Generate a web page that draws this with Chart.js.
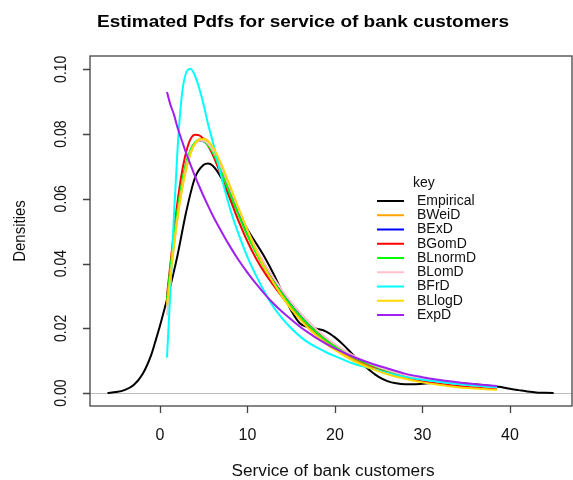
<!DOCTYPE html>
<html>
<head>
<meta charset="utf-8">
<script src="https://cdn.jsdelivr.net/npm/chart.js@4/dist/chart.umd.min.js"></script>
<style>
  html, body { margin: 0; padding: 0; background: #ffffff; }
  canvas { display: block; }
</style>
</head>
<body>
<canvas id="pdfChart" width="573" height="480"></canvas>
<script>
// Axis ticks
const xTicks = [0, 10, 20, 30, 40];
const yTicks = [0, 0.02, 0.04, 0.06, 0.08, 0.10];
const yTickLabels = ['0.00', '0.02', '0.04', '0.06', '0.08', '0.10'];

// Series names (legend order)
const seriesNames = ['Empirical', 'BWeiD', 'BExD', 'BGomD', 'BLnormD', 'BLomD', 'BFrD', 'BLlogD', 'ExpD'];

// Kernel density estimate of the service times
const empX = [-6, -5, -4, -3, -2, -1, -0.5, 0, 0.5, 1, 1.5, 2, 3, 4, 5, 5.5, 6, 7, 8, 9, 10, 11, 12, 13, 14, 15, 16, 17, 18, 19, 20, 21, 22, 23, 24, 25, 26, 27, 28, 29, 30, 31, 32, 34, 36, 38, 39, 40, 41, 42, 43, 44, 45];
const empY = [0.0000, 0.0003, 0.0010, 0.0025, 0.0058, 0.0118, 0.0162, 0.0208, 0.0258, 0.0310, 0.0365, 0.0425, 0.0560, 0.0665, 0.0705, 0.0709, 0.0703, 0.0665, 0.0605, 0.0555, 0.0505, 0.0462, 0.0418, 0.0367, 0.0310, 0.0255, 0.0215, 0.0203, 0.0198, 0.0190, 0.0172, 0.0148, 0.0120, 0.0093, 0.0070, 0.0050, 0.0037, 0.0030, 0.0027, 0.0027, 0.0029, 0.0031, 0.0032, 0.0031, 0.0027, 0.0022, 0.0019, 0.0013, 0.0009, 0.0005, 0.0002, 0.0001, 0.0000];

// Fitted densities, evaluated over the observed range
const modelX = [0.8, 1.2, 1.6, 2.0, 2.5, 3.0, 3.5, 4.0, 4.5, 5, 5.5, 6, 7, 8, 9, 10, 11, 12, 13, 14, 15, 16, 17, 18, 19, 20, 22, 24, 26, 28, 30, 32, 34, 36, 38.5];
const bWeiD   = [0.028, 0.037, 0.046, 0.0545, 0.063, 0.0695, 0.0742, 0.0771, 0.0784, 0.0786, 0.0778, 0.0760, 0.0703, 0.0633, 0.0562, 0.0495, 0.0435, 0.0382, 0.0336, 0.0296, 0.0260, 0.0229, 0.0201, 0.0177, 0.0156, 0.0137, 0.0106, 0.0081, 0.0062, 0.0048, 0.0037, 0.0028, 0.0021, 0.0016, 0.0012];
const bExD    = [0.029, 0.0385, 0.0475, 0.056, 0.0645, 0.0708, 0.0749, 0.0772, 0.0780, 0.0777, 0.0766, 0.0748, 0.0690, 0.0622, 0.0555, 0.0492, 0.0437, 0.0389, 0.0346, 0.0307, 0.0272, 0.0240, 0.0211, 0.0186, 0.0164, 0.0145, 0.0113, 0.0088, 0.0069, 0.0054, 0.0043, 0.0034, 0.0027, 0.0022, 0.0017];
const bGomD   = [0.030, 0.040, 0.050, 0.059, 0.068, 0.0745, 0.0785, 0.0798, 0.0796, 0.0784, 0.0764, 0.0738, 0.0672, 0.0600, 0.0530, 0.0468, 0.0415, 0.0370, 0.0332, 0.0297, 0.0265, 0.0236, 0.0209, 0.0185, 0.0164, 0.0145, 0.0112, 0.0086, 0.0066, 0.0050, 0.0038, 0.0029, 0.0023, 0.0018, 0.0014];
const bLnormD = [0.029, 0.039, 0.048, 0.0565, 0.065, 0.0712, 0.0752, 0.0774, 0.0782, 0.0778, 0.0765, 0.0745, 0.0685, 0.0615, 0.0548, 0.0486, 0.0432, 0.0385, 0.0343, 0.0305, 0.0270, 0.0238, 0.0210, 0.0185, 0.0163, 0.0144, 0.0112, 0.0088, 0.0069, 0.0055, 0.0044, 0.0035, 0.0029, 0.0023, 0.0018];
const bLomD   = [0.024, 0.035, 0.045, 0.054, 0.063, 0.0700, 0.0745, 0.0770, 0.0780, 0.0779, 0.0770, 0.0752, 0.0698, 0.0632, 0.0565, 0.0503, 0.0447, 0.0398, 0.0355, 0.0316, 0.0281, 0.0249, 0.0220, 0.0194, 0.0171, 0.0151, 0.0117, 0.0091, 0.0071, 0.0056, 0.0044, 0.0035, 0.0028, 0.0023, 0.0018];
const bFrD    = [0.011, 0.032, 0.055, 0.075, 0.092, 0.099, 0.1002, 0.098, 0.094, 0.089, 0.083, 0.078, 0.067, 0.057, 0.049, 0.042, 0.0362, 0.031, 0.0265, 0.023, 0.020, 0.0175, 0.0155, 0.0140, 0.0126, 0.0114, 0.0092, 0.0077, 0.0062, 0.0050, 0.0041, 0.0034, 0.0028, 0.0023, 0.0018];
const bLlogD  = [0.027, 0.0365, 0.0455, 0.054, 0.0625, 0.0692, 0.0740, 0.0770, 0.0783, 0.0785, 0.0778, 0.0762, 0.0708, 0.0640, 0.0570, 0.0502, 0.0440, 0.0386, 0.0339, 0.0297, 0.0260, 0.0228, 0.0199, 0.0174, 0.0152, 0.0133, 0.0101, 0.0077, 0.0058, 0.0044, 0.0033, 0.0025, 0.0018, 0.0014, 0.0010];
const expD    = [0.093, 0.089, 0.086, 0.082, 0.078, 0.074, 0.0705, 0.067, 0.0638, 0.0607, 0.0578, 0.055, 0.050, 0.0453, 0.041, 0.0372, 0.0337, 0.0305, 0.0276, 0.025, 0.0227, 0.0205, 0.0186, 0.0168, 0.0152, 0.0138, 0.0113, 0.0093, 0.0076, 0.0060, 0.0049, 0.0040, 0.0033, 0.0027, 0.0022];
const modelValues = [bWeiD, bExD, bGomD, bLnormD, bLomD, bFrD, bLlogD, expD];

// Line colours, same order as seriesNames
const seriesColors = ['#000000', '#FFA500', '#0000FF', '#FF0000', '#00FF00', '#FFC0CB', '#00FFFF', '#FFD700', '#A020F0'];

const FONT = '"Liberation Sans", Arial, Helvetica, sans-serif';
const TEXT = '#111111';

const datasets = [];
datasets.push({
  label: seriesNames[0],
  data: empX.map((x, i) => ({ x: x, y: empY[i] }))
});
modelValues.forEach((vals, k) => {
  datasets.push({
    label: seriesNames[k + 1],
    data: modelX.map((x, i) => ({ x: x, y: vals[i] }))
  });
});
datasets.forEach((d, i) => {
  d.borderColor = seriesColors[i];
  d.backgroundColor = seriesColors[i];
  d.borderWidth = 2;
  d.pointRadius = 0;
  d.fill = false;
  d.cubicInterpolationMode = 'monotone';
  d.order = datasets.length - i; // later curves are painted over earlier ones
});

// Write text horizontally scaled to a given width
function fitText(ctx, text, x, y, font, width, align) {
  ctx.save();
  ctx.font = font;
  ctx.textAlign = align || 'center';
  ctx.textBaseline = 'alphabetic';
  const w = ctx.measureText(text).width;
  const sx = width ? width / w : 1;
  ctx.translate(x, y);
  ctx.scale(sx, 1);
  ctx.fillText(text, 0, 0);
  ctx.restore();
}

// Base-graphics style frame, axes, annotations and key
const frame = {
  id: 'frame',
  beforeDatasetsDraw(chart) {
    const { ctx, chartArea: a, scales: { y } } = chart;
    ctx.save();
    ctx.strokeStyle = '#bebebe';
    ctx.lineWidth = 1;
    const py = Math.round(y.getPixelForValue(0)) + 0.5;
    ctx.beginPath();
    ctx.moveTo(a.left, py);
    ctx.lineTo(a.right, py);
    ctx.stroke();
    ctx.restore();
  },
  afterDraw(chart) {
    const { ctx, chartArea: a, scales: { x, y } } = chart;
    ctx.save();
    ctx.strokeStyle = '#444444';
    ctx.lineWidth = 1.3;
    ctx.strokeRect(a.left, a.top, a.right - a.left, a.bottom - a.top);

    // x axis
    ctx.beginPath();
    xTicks.forEach(v => {
      const px = Math.round(x.getPixelForValue(v)) + 0.5;
      ctx.moveTo(px, a.bottom);
      ctx.lineTo(px, a.bottom + 7);
    });
    // y axis
    yTicks.forEach(v => {
      const py = Math.round(y.getPixelForValue(v)) + 0.5;
      ctx.moveTo(a.left, py);
      ctx.lineTo(a.left - 7, py);
    });
    ctx.stroke();

    ctx.fillStyle = TEXT;
    xTicks.forEach(v => {
      fitText(ctx, String(v), x.getPixelForValue(v), 440, '16px ' + FONT, null, 'center');
    });
    yTicks.forEach((v, i) => {
      ctx.save();
      ctx.translate(66, y.getPixelForValue(v));
      ctx.rotate(-Math.PI / 2);
      ctx.scale(1, 1.15);
      ctx.font = '14px ' + FONT;
      ctx.textAlign = 'center';
      ctx.textBaseline = 'alphabetic';
      ctx.fillText(yTickLabels[i], 0, 0);
      ctx.restore();
    });

    // titles
    ctx.fillStyle = '#000000';
    fitText(ctx, 'Estimated Pdfs for service of bank customers', 303, 27, 'bold 16px ' + FONT, 412, 'center');
    ctx.fillStyle = TEXT;
    fitText(ctx, 'Service of bank customers', 333, 476, '16px ' + FONT, 203, 'center');
    ctx.save();
    ctx.translate(25, (a.top + a.bottom) / 2);
    ctx.rotate(-Math.PI / 2);
    ctx.scale(1, 1.15);
    ctx.font = '15px ' + FONT;
    ctx.textAlign = 'center';
    ctx.textBaseline = 'alphabetic';
    ctx.fillText('Densities', 0, 0);
    ctx.restore();

    // key
    ctx.font = '14px ' + FONT;
    ctx.textAlign = 'left';
    ctx.textBaseline = 'middle';
    ctx.fillText('key', 413, 183);
    seriesNames.forEach((name, i) => {
      const ry = 201 + i * 14.25;
      ctx.strokeStyle = seriesColors[i];
      ctx.lineWidth = 2;
      ctx.beginPath();
      ctx.moveTo(377, ry);
      ctx.lineTo(404, ry);
      ctx.stroke();
      ctx.fillStyle = TEXT;
      ctx.fillText(name, 417, ry);
    });
    ctx.restore();
  }
};

new Chart(document.getElementById('pdfChart'), {
  type: 'line',
  data: { datasets: datasets },
  options: {
    responsive: false,
    animation: false,
    devicePixelRatio: 1,
    events: [],
    layout: { padding: { left: 90, right: 1, top: 56, bottom: 74 } },
    scales: {
      x: { type: 'linear', min: -8, max: 47.1, display: false },
      y: { type: 'linear', min: -0.004, max: 0.1041, display: false }
    },
    plugins: {
      legend: { display: false },
      tooltip: { enabled: false },
      title: { display: false }
    }
  },
  plugins: [frame]
});
</script>
</body>
</html>
